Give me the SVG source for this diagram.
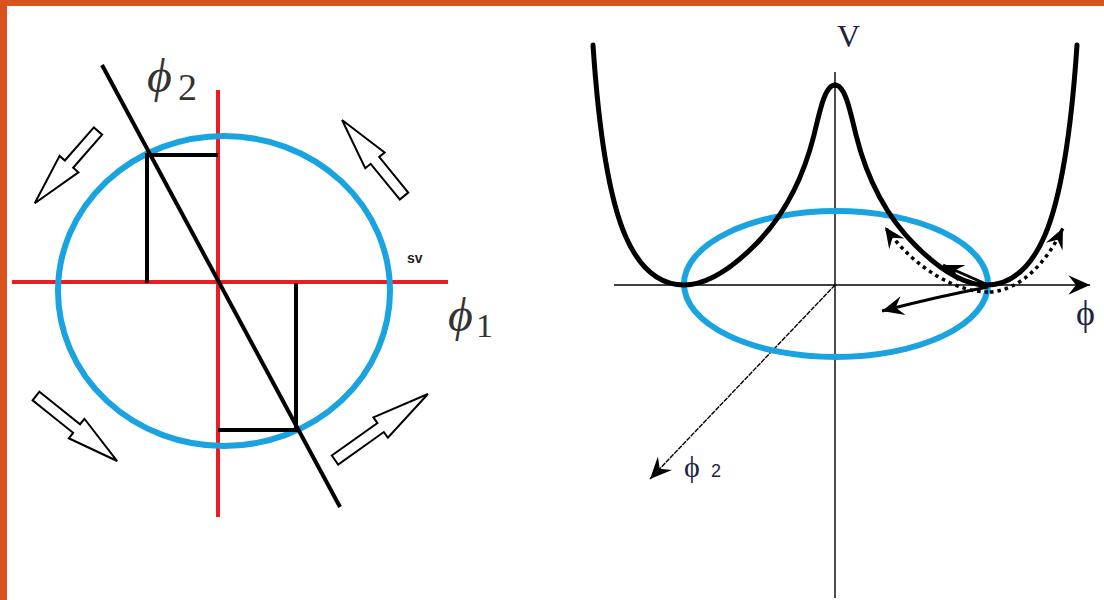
<svg xmlns="http://www.w3.org/2000/svg" width="1104" height="600" viewBox="0 0 1104 600">
  <style>
    .frame { fill: #D9531C; }
    .blue { fill: none; stroke: #1AA3E1; stroke-width: 6; }
    .red { stroke: #EC1C24; stroke-width: 4; fill: none; }
    .blk { stroke: #000; stroke-width: 4; fill: none; }
    .hollow { fill: #fff; stroke: #000; stroke-width: 2; stroke-linejoin: miter; }
    .tex { font-family: "Liberation Serif", "DejaVu Serif", serif; fill: #333; }
    .pot { fill: none; stroke: #000; stroke-width: 5; stroke-linecap: round; }
    .axis { stroke: #000; stroke-width: 1.4; fill: none; }
    .solid { stroke: #000; stroke-width: 3; fill: none; }
    .dotted { stroke: #000; stroke-width: 3.5; fill: none; stroke-dasharray: 3.5 4; }
    .lab { font-family: "Liberation Serif", "DejaVu Serif", serif; fill: #1c2340; }
  </style>
  <defs>
    <marker id="head" markerUnits="userSpaceOnUse" markerWidth="26" markerHeight="26" viewBox="-22 -11 24 22" refX="0" refY="0" orient="auto">
      <path d="M0,0 L-20,-9 L-13,0 L-20,9 Z" fill="#000"/>
    </marker>
    <marker id="headS" markerUnits="userSpaceOnUse" markerWidth="26" markerHeight="26" viewBox="-22 -11 24 22" refX="0" refY="0" orient="auto">
      <path d="M0,0 L-19,-8.5 L-12,0 L-19,8.5 Z" fill="#000"/>
    </marker>
  </defs>

  <!-- frame -->
  <rect x="0" y="0" width="1104" height="600" fill="#fff"/>
  <rect class="frame" x="0" y="0" width="1104" height="6"/>
  <rect class="frame" x="0" y="0" width="7" height="600"/>

  <!-- LEFT DIAGRAM -->
  <g id="left-axes">
    <line class="red" x1="12" y1="282" x2="448" y2="282"/>
    <line class="red" x1="218" y1="90" x2="218" y2="517"/>
  </g>
  <g id="left-circle">
    <ellipse class="blue" cx="224" cy="291" rx="166" ry="155"/>
  </g>
  <g id="left-lines">
    <line class="blk" x1="102" y1="65" x2="340" y2="507"/>
    <polyline class="blk" points="147,283 147,155 218,155"/>
    <polyline class="blk" points="296,283 296,430 218,430"/>
  </g>
  <g id="rotation-arrows">
    <path class="hollow" transform="translate(98,131) rotate(131.2)" d="M0,-5.5 L44,-5.5 L44,-12.5 L96,0 L44,12.5 L44,5.5 L0,5.5 Z"/>
    <path class="hollow" transform="translate(404,196) rotate(-129.2)" d="M0,-5.5 L46,-5.5 L46,-12.5 L98,0 L46,12.5 L46,5.5 L0,5.5 Z"/>
    <path class="hollow" transform="translate(36,396) rotate(38.7)" d="M0,-5.5 L52,-5.5 L52,-12.5 L104,0 L52,12.5 L52,5.5 L0,5.5 Z"/>
    <path class="hollow" transform="translate(335,460) rotate(-35.4)" d="M0,-5.5 L56,-5.5 L56,-12.5 L114,0 L56,12.5 L56,5.5 L0,5.5 Z"/>
  </g>
  <g id="left-labels">
    <text class="tex" x="147" y="92" font-size="48" font-style="italic">ϕ</text>
    <text class="tex" x="178" y="100" font-size="38">2</text>
    <text class="tex" x="448" y="331" font-size="48" font-style="italic">ϕ</text>
    <text class="tex" x="476" y="337" font-size="34">1</text>
    <text x="407" y="263" font-family="Liberation Sans, Arial, sans-serif" font-weight="bold" font-size="14" fill="#222">sv</text>
  </g>

  <!-- RIGHT DIAGRAM -->
  <g id="right-axes">
    <line class="axis" x1="835" y1="72" x2="835" y2="598"/>
    <line class="axis" x1="614" y1="285" x2="1090" y2="285" marker-end="url(#head)"/>
    <line class="axis" x1="835" y1="285" x2="650" y2="479" stroke-width="1.5" stroke-dasharray="5 1" marker-end="url(#head)"/>
  </g>
  <g id="right-ellipse">
    <ellipse class="blue" cx="836" cy="284" rx="152" ry="73" stroke-width="5"/>
  </g>
  <g id="potential">
    <path class="pot" d="M835,85 C845,85 850,110 856,135 C866,175 885,215 915,245 C940,270 965,285 986,285 C1010,285 1030,270 1045,235 C1062,195 1072,120 1077,45"/>
    <path class="pot" transform="translate(1670,0) scale(-1,1)" d="M835,85 C845,85 850,110 856,135 C866,175 885,215 915,245 C940,270 965,285 986,285 C1010,285 1030,270 1045,235 C1062,195 1072,120 1077,45"/>
  </g>
  <g id="motion-arrows">
    <path class="solid" d="M986,284 L943,265" marker-end="url(#headS)"/>
    <path class="solid" d="M988,287 Q940,296 882,311" marker-end="url(#head)"/>
    <path class="dotted" d="M988,292 C958,292 915,270 885,227" marker-end="url(#headS)"/>
    <path class="dotted" d="M990,292 C1020,290 1046,264 1063,228" marker-end="url(#headS)"/>
  </g>
  <g id="right-labels">
    <text class="lab" x="837" y="47" font-size="32">V</text>
    <text class="lab" x="1076" y="325" font-size="36">ϕ</text>
    <text class="lab" x="684" y="477" font-size="30">ϕ</text>
    <text x="711" y="477" font-family="Liberation Sans, Arial, sans-serif" font-size="18" fill="#1c2340">2</text>
  </g>
</svg>
